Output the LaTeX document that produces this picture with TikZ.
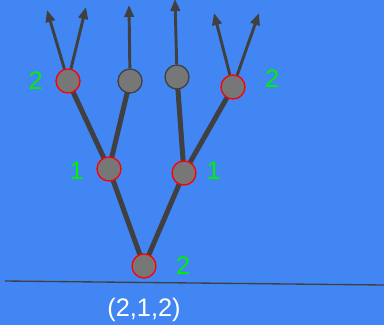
\documentclass[tikz,border=0pt]{standalone}
\usepackage{fontspec}
\setmainfont{Liberation Sans}
\usepackage{tikz}
\usetikzlibrary {arrows.meta, positioning}
\definecolor{bgblue}{HTML}{4286F4}
\definecolor{stemgray}{HTML}{404040}
\definecolor{knotgray}{HTML}{777777}
\definecolor{numgreen}{HTML}{00F000}

\begin{document}
\begin{tikzpicture}[x=0.75pt,y=-0.75pt,>={Triangle[length=9pt,width=7pt]},
      knot/.style={circle,fill=knotgray,draw=stemgray,line width=1pt,minimum size=18pt,inner sep=0pt},
      split/.style={knot,draw=red},
      stem/.style={draw=stemgray,line width=3.75pt},
      shoot/.style={draw=stemgray,line width=2.2pt,->},
      count/.style={text=numgreen,font=\fontsize{19}{19}\selectfont}]
      \fill[bgblue] (0,0) rectangle (384,325);
      \useasboundingbox (0,0) rectangle (384,325);
      % ground
      \coordinate (g_l) at (5,281);
      \coordinate (g_r) at (384,285);
      \draw[stemgray,line width=1pt] (g_l) -- (g_r);
      % tips of the shoots
      \coordinate (t_1) at (47,10);
      \coordinate (t_2) at (86,7);
      \coordinate (t_3) at (129,5);
      \coordinate (t_4) at (175,-1);
      \coordinate (t_5) at (214,13);
      \coordinate (t_6) at (259,13);
      % stems first, knots on top
      \path[stem] (144,266) -- (109,169) -- (68,81);
      \path[stem] (109,169) -- (130,81);
      \path[stem] (144,266) -- (184,173) -- (177,77);
      \path[stem] (184,173) -- (233,87);
      \node[split] (root) at (144,266) {};
      \node[split] (m_l) at (109,169) {};
      \node[split] (m_r) at (184,173) {};
      \node[split] (b_1) at (68,81) {};
      \node[knot]  (b_2) at (130,81) {};
      \node[knot]  (b_3) at (177,77) {};
      \node[split] (b_4) at (233,87) {};
      \path[shoot] (b_1) -- (t_1);
      \path[shoot] (b_1) -- (t_2);
      \path[shoot] (b_2) -- (t_3);
      \path[shoot] (b_3) -- (t_4);
      \path[shoot] (b_4) -- (t_5);
      \path[shoot] (b_4) -- (t_6);
      \node[count, left=6pt of b_1] {2};
      \node[count, left=6pt of m_l, yshift=-1.5pt] {1};
      \node[count, right=4pt of m_r, yshift=1.5pt] {1};
      \node[count, right=11pt of root] {2};
      \node[count, right=11pt of b_4, yshift=6pt] {2};
      \node[text=white,font=\fontsize{19}{19}\selectfont] (code) at (144,310) {(2,1,2)};
    \end{tikzpicture}
\end{document}
